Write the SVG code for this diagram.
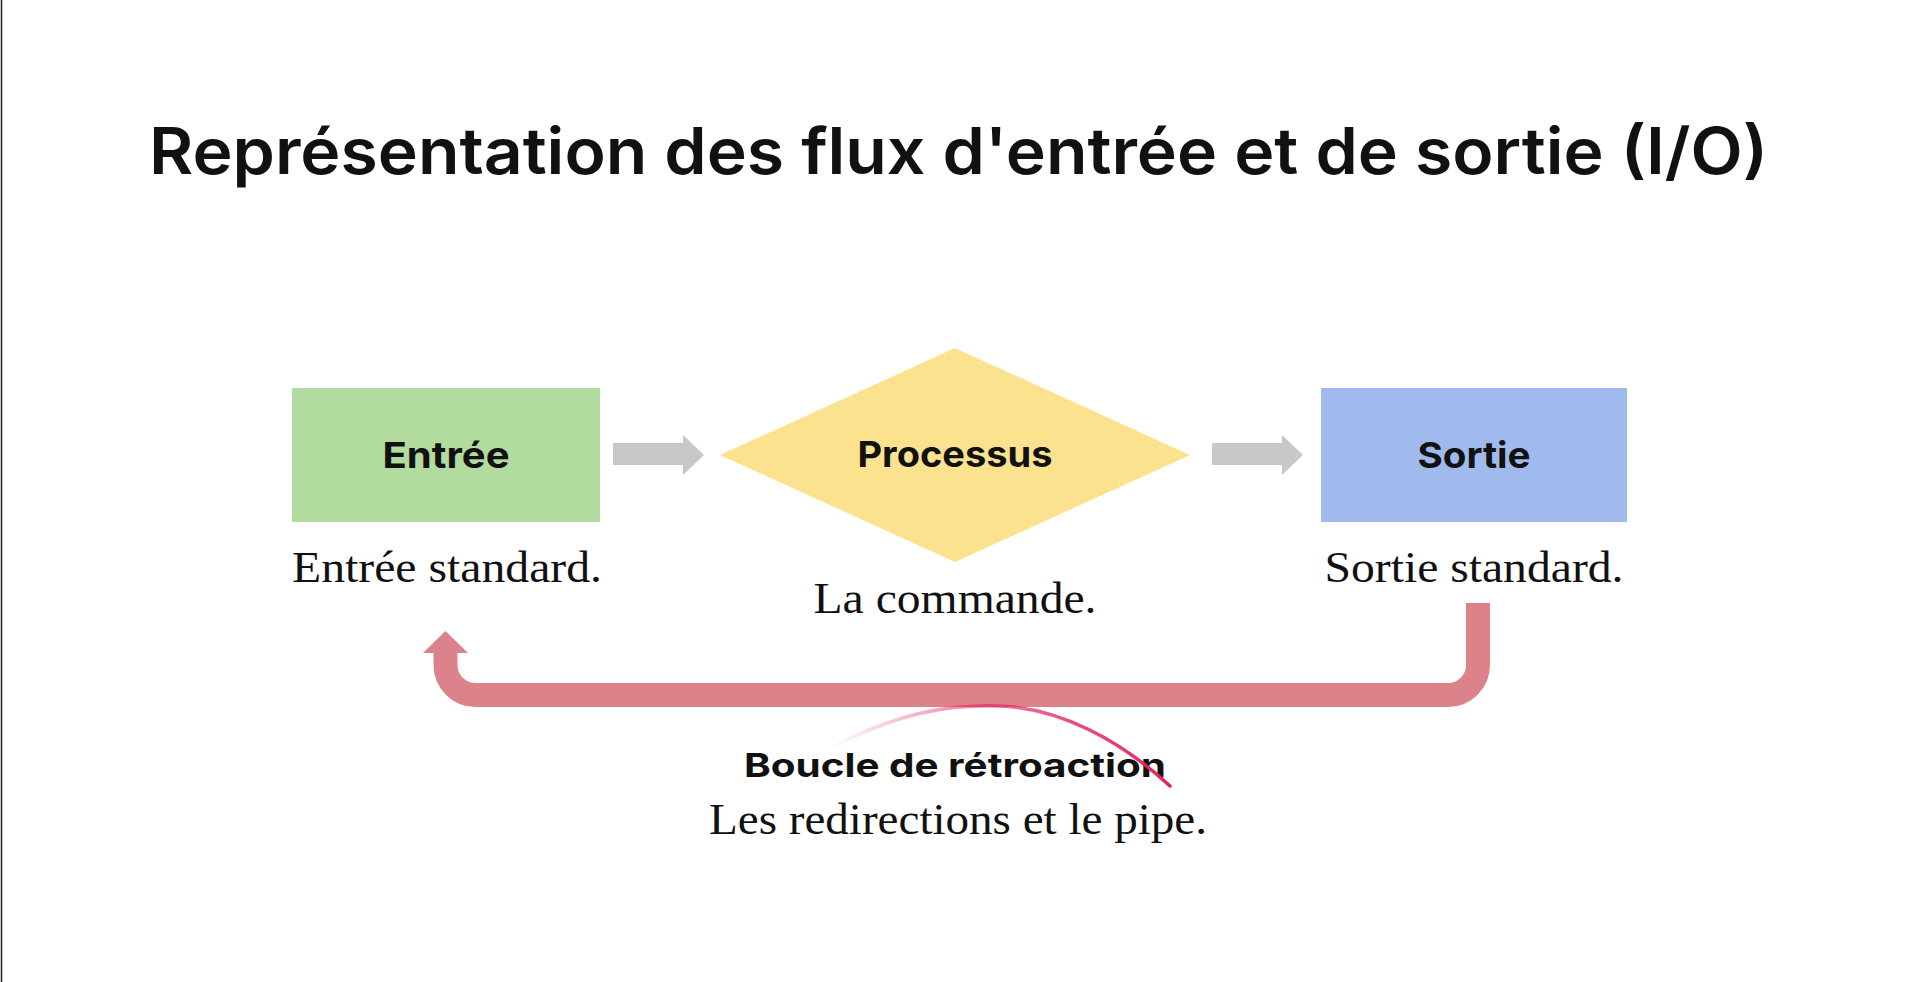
<svg xmlns="http://www.w3.org/2000/svg" width="1912" height="982" viewBox="0 0 1912 982">
<style>
.h{font-family:Inter,"Open Sans","Liberation Sans",sans-serif;fill:#111;text-anchor:middle}
.t{font-size:64px;font-weight:600}
.lbl{font-size:36px;font-weight:700}
.s{font-family:"Liberation Serif","DejaVu Serif",serif;fill:#111;font-size:44px;text-anchor:middle}
.gray{fill:#c8c8c8}
</style>
<defs>
<linearGradient id="lg" gradientUnits="userSpaceOnUse" x1="830" y1="0" x2="1170" y2="0">
<stop offset="0" stop-color="#e0245e" stop-opacity="0"/>
<stop offset="0.45" stop-color="#e0245e" stop-opacity="0.6"/>
<stop offset="1" stop-color="#e0245e" stop-opacity="1"/>
</linearGradient>
</defs>
<rect width="1912" height="982" fill="#ffffff"/>
<line x1="1.5" y1="0" x2="1.5" y2="982" stroke="#222" stroke-width="1.5"/>
<text id="title" class="h t" x="958.5" y="174" textLength="1619" lengthAdjust="spacingAndGlyphs">Représentation des flux d'entrée et de sortie (I/O)</text>
<g id="connectors">
<polygon id="arrow1" class="gray" points="613,443 683,443 683,435 704,455 683,475 683,465 613,465"/>
<polygon id="arrow2" class="gray" points="1212,443 1282,443 1282,435 1303,455 1282,475 1282,465 1212,465"/>
<g id="feedback">
<path d="M1478,603 V665 A30,30 0 0 1 1448,695 H475.5 A30,30 0 0 1 445.5,665 V652" fill="none" stroke="#dc828b" stroke-width="24"/>
<polygon points="445.5,631 468,653 423,653" fill="#dc828b"/>
</g>
</g>
<g id="entree">
<rect x="292" y="388" width="308" height="134" fill="#b2db9f"/>
<text class="h lbl" x="446" y="468" textLength="127" lengthAdjust="spacingAndGlyphs">Entrée</text>
<text class="s" x="447" y="582" textLength="310" lengthAdjust="spacingAndGlyphs">Entrée standard.</text>
</g>
<g id="processus">
<polygon points="955,348 1190,455 955,562 720,455" fill="#fbe28f"/>
<text class="h lbl" x="955" y="467" textLength="195" lengthAdjust="spacingAndGlyphs">Processus</text>
<text class="s" x="955" y="613" textLength="283" lengthAdjust="spacingAndGlyphs">La commande.</text>
</g>
<g id="sortie">
<rect x="1321" y="388" width="306" height="134" fill="#a0baed"/>
<text class="h lbl" x="1474" y="468" textLength="113" lengthAdjust="spacingAndGlyphs">Sortie</text>
<text class="s" x="1474" y="582" textLength="299" lengthAdjust="spacingAndGlyphs">Sortie standard.</text>
</g>
<g id="boucle">
<text class="h" x="955" y="777" style="font-size:33px;font-weight:700" textLength="422" lengthAdjust="spacingAndGlyphs">Boucle de rétroaction</text>
<text class="s" x="958" y="834" textLength="498" lengthAdjust="spacingAndGlyphs">Les redirections et le pipe.</text>
</g>
<path id="scribble" d="M830,748 C900,712 950,704 1000,706 C1060,708 1120,740 1170,786" fill="none" stroke="url(#lg)" stroke-width="3.5" stroke-linecap="round"/>
</svg>
